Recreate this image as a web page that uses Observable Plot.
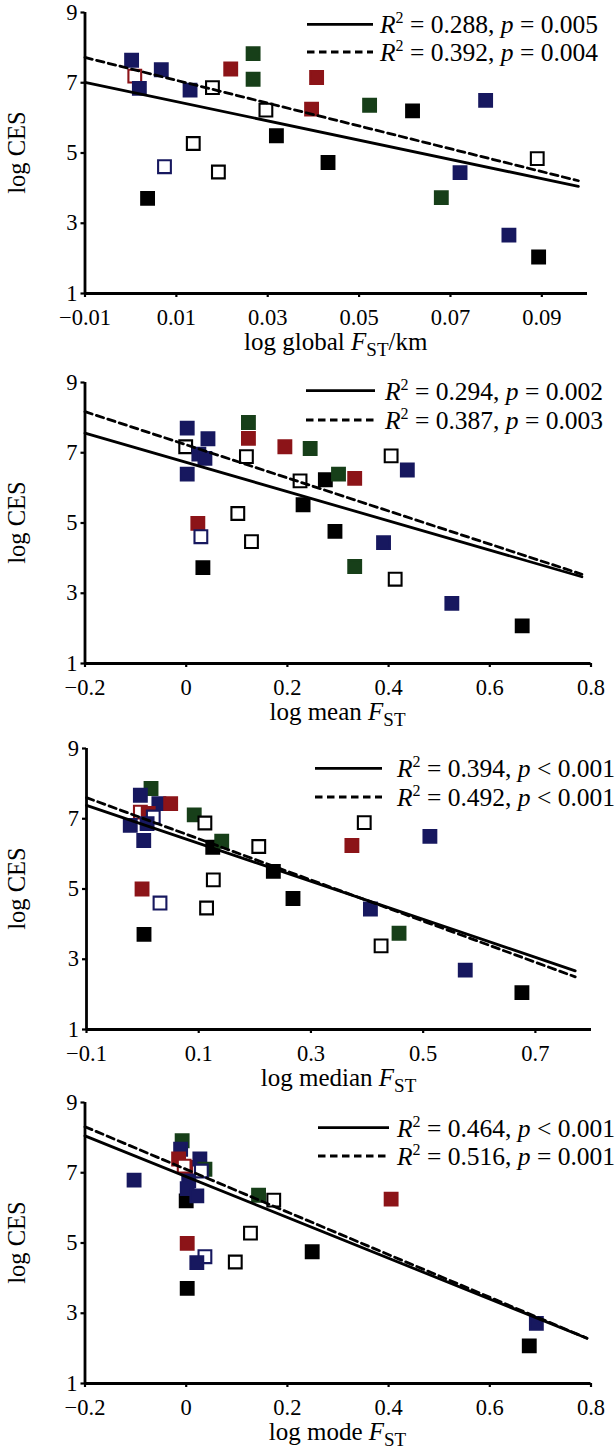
<!DOCTYPE html>
<html><head><meta charset="utf-8">
<script src="https://cdn.jsdelivr.net/npm/d3@7"></script>
<script src="https://cdn.jsdelivr.net/npm/@observablehq/plot@0.6"></script>
<style>
body{margin:0;background:#fff;}
#wrap{position:relative;width:616px;height:1453px;overflow:hidden;background:#fff;}
.panel{position:absolute;left:0;}
svg text{font-family:"Liberation Serif","Times New Roman",serif;}
</style></head><body><div id="wrap"></div>
<script>
// ---- colours of the species groups ----
const groupColors = {navy:"#17185f", red:"#8c1418", green:"#173f19", black:"#000000"};

// ---- panel 1: log global FST/km ----
const p1_x = [0.0002,0.0009,0.0019,0.0067,0.0130,0.0074,0.0037,0.0137,0.0179,0.0192,0.0219,0.0268,0.0268,0.0296,0.0319,0.0407,0.0396,0.0432,0.0523,0.0617,0.0777,0.0721,0.0680,0.0828,0.0893,0.0890];
const p1_y = [7.64,7.19,6.84,7.37,6.79,4.61,3.71,5.27,6.86,4.46,7.39,7.83,7.10,6.22,5.49,7.15,6.25,4.73,6.36,6.20,6.50,4.44,3.73,2.66,2.04,4.84];
const p1_type = ["navy","red-open","navy","navy","navy","navy-open","black","black-open","black-open","black-open","red","green","green","black-open","black","red","red","black","green","black","navy","navy","green","navy","black","black-open"];

// ---- panel 2: log mean FST ----
const p2_x = [0.002,0.043,-0.001,0.025,0.037,0.002,0.023,0.029,0.033,0.102,0.129,0.123,0.123,0.119,0.195,0.245,0.225,0.231,0.275,0.301,0.333,0.294,0.333,0.405,0.413,0.437,0.390,0.525,0.664];
const p2_y = [7.70,7.40,7.17,6.96,6.84,6.39,4.99,4.61,3.73,5.27,4.47,7.86,7.41,6.89,7.17,7.12,6.20,5.52,6.23,6.39,6.27,4.76,3.76,6.91,3.40,6.51,4.44,2.71,2.07];
const p2_type = ["navy","navy","black-open","navy","navy","navy","red","navy-open","black","black-open","black-open","green","red","black-open","red","green","black-open","black","black","green","red","black","green","black-open","black-open","navy","navy","navy","black"];

// ---- panel 3: log median FST ----
const p3_x = [0.015,-0.004,0.029,0.050,-0.004,0.010,0.019,-0.022,0.008,0.002,0.092,0.111,0.125,0.141,0.207,0.233,0.126,0.114,-0.001,0.031,0.0025,0.268,0.373,0.395,0.512,0.406,0.457,0.425,0.575,0.676];
const p3_y = [7.86,7.67,7.43,7.43,7.19,7.15,7.05,6.81,6.86,6.38,7.11,6.88,6.19,6.36,6.21,5.50,5.26,4.46,5.00,4.60,3.71,4.73,6.24,6.89,6.50,4.43,3.74,3.38,2.69,2.05];
const p3_type = ["green","navy","navy","red","red-open","red","navy-open","navy","navy","navy","green","black-open","black","green","black-open","black","black-open","black-open","red","navy-open","black","black","red","black-open","navy","navy","green","black-open","navy","black"];

// ---- panel 4: log mode FST ----
const p4_x = [-0.103,0.000,-0.008,-0.011,-0.015,-0.001,-0.004,0.027,0.037,0.030,0.005,0.002,0.021,0.143,0.173,0.405,0.127,0.002,0.037,0.021,0.097,0.249,0.002,0.692,0.678];
const p4_y = [6.79,6.20,7.91,7.67,7.39,7.15,7.19,7.39,7.10,7.05,6.77,6.55,6.34,6.36,6.22,6.25,5.28,4.99,4.61,4.44,4.46,4.75,3.71,2.71,2.07];
const p4_type = ["navy","black","green","navy","red","red","red-open","navy","green","navy-open","navy","navy","navy","green","black-open","red","black-open","red","navy-open","navy","black-open","black","black","navy","black"];

// ---- regression lines (end points) ----
const fit1_x = [-0.01, 0.098], fit1_solid = [7.01, 4.05], fit1_dashed = [7.72, 4.21];
const fit2_x = [-0.2, 0.782],  fit2_solid = [7.56, 3.47], fit2_dashed = [8.17, 3.54];
const fit3_x = [-0.1, 0.771],  fit3_solid = [7.38, 2.67], fit3_dashed = [7.60, 2.50];
const fit4_x = [-0.2, 0.792],  fit4_solid = [8.05, 2.29], fit4_dashed = [8.31, 2.29];

// ---- legend statistics ----
const stats1 = [["0.288","=","0.005"],["0.392","=","0.004"]];
const stats2 = [["0.294","=","0.002"],["0.387","=","0.003"]];
const stats3 = [["0.394","<","0.001"],["0.492","<","0.001"]];
const stats4 = [["0.464","<","0.001"],["0.516","=","0.001"]];

// ---- axes ----
const xTicks1 = [-0.01,0.01,0.03,0.05,0.07,0.09];
const xTicks2 = [-0.2,0,0.2,0.4,0.6,0.8];
const xTicks3 = [-0.1,0.1,0.3,0.5,0.7];
const xTicks4 = [-0.2,0,0.2,0.4,0.6,0.8];
const yTicks = [1,3,5,7,9];
const xLabelWords = ["log global ","log mean ","log median ","log mode "];
const xLabelSuffix = ["/km","","",""];

const panels = [
  {top:0,    xs:p1_x, ys:p1_y, types:p1_type, dom:[-0.01,0.10], ticks:xTicks1, ml:84.5, mr:29,
   fx:fit1_x, fs:fit1_solid, fd:fit1_dashed, stats:stats1, leg:{x1:307,x2:373,tx:380,y1:24.3,y2:52}},
  {top:370,  xs:p2_x, ys:p2_y, types:p2_type, dom:[-0.2,0.8], ticks:xTicks2, ml:84.5, mr:25.5,
   fx:fit2_x, fs:fit2_solid, fd:fit2_dashed, stats:stats2, leg:{x1:306,x2:375,tx:385,y1:20.7,y2:50}},
  {top:736,  xs:p3_x, ys:p3_y, types:p3_type, dom:[-0.1,0.8], ticks:xTicks3, ml:86, mr:25,
   fx:fit3_x, fs:fit3_solid, fd:fit3_dashed, stats:stats3, leg:{x1:315,x2:382,tx:397,y1:32.3,y2:61}},
  {top:1090, xs:p4_x, ys:p4_y, types:p4_type, dom:[-0.2,0.8], ticks:xTicks4, ml:84.5, mr:25.5,
   fx:fit4_x, fs:fit4_solid, fd:fit4_dashed, stats:stats4, leg:{x1:318,x2:389,tx:397,y1:37.7,y2:66}}
];

const fmt = d => d === 0 ? "0" : (d < 0 ? "\u2212" : "") + String(+Math.abs(d).toFixed(3));
const wrap = document.getElementById("wrap");
const H = 353, MT = 12, MB = 60;

panels.forEach((p, i) => {
  const pts = p.xs.map((x, k) => {
    const [c, o] = p.types[k].split("-");
    return {x, y: p.ys[k], col: groupColors[c], open: o === "open"};
  });
  const solid = p.fx.map((x, k) => ({x, y: p.fs[k]}));
  const dashed = p.fx.map((x, k) => ({x, y: p.fd[k]}));
  const svg = Plot.plot({
    width: 616, height: H,
    marginTop: MT, marginBottom: MB, marginLeft: p.ml, marginRight: p.mr,
    x: {domain: p.dom},
    y: {domain: [1, 9]},
    color: {type: "identity"},
    style: {fontFamily: "Liberation Serif", fontSize: "22.5px", color: "#000", background: "transparent", overflow: "visible"},
    marks: [
      Plot.axisX({ticks: p.ticks, tickFormat: fmt, tickSize: 4, tickPadding: 12, strokeWidth: 2.2, label: null, fontSize: 22.5}),
      Plot.axisY({ticks: yTicks, tickSize: 4, tickPadding: 3.5, strokeWidth: 2.2, label: null, fontSize: 22.5}),
      Plot.ruleY([1], {stroke: "#000", strokeWidth: 2.8}),
      Plot.ruleX([p.dom[0]], {stroke: "#000", strokeWidth: 2.8}),
      Plot.dot(pts, {x: "x", y: "y", symbol: "square", r: 7.2,
        fill: d => d.open ? "#ffffff" : d.col, stroke: "col", strokeWidth: 2.1}),
      Plot.line(solid, {x: "x", y: "y", stroke: "#000", strokeWidth: 2.8}),
      Plot.line(dashed, {x: "x", y: "y", stroke: "#000", strokeWidth: 2.8, strokeDasharray: "7.5,4.5"})
    ]
  });
  const div = document.createElement("div");
  div.className = "panel";
  div.style.top = p.top + "px";
  div.appendChild(svg);
  wrap.appendChild(div);

  const s = d3.select(svg);
  const plotTop = MT, plotBottom = H - MB;
  const cx = (p.ml + (616 - p.mr)) / 2;
  // y label
  s.append("text").attr("transform", `translate(16,${(plotTop + plotBottom) / 2}) rotate(-90)`)
    .attr("text-anchor", "middle").attr("dy", "0.35em").style("font-size", "24.5px").text("log CES");
  // x label
  const xl = s.append("text").attr("x", cx).attr("y", plotBottom + 48).attr("dy", "0.35em")
    .attr("text-anchor", "middle").style("font-size", "25px");
  xl.append("tspan").text(xLabelWords[i]);
  xl.append("tspan").style("font-style", "italic").text("F");
  xl.append("tspan").attr("dy", 6).style("font-size", "19px").text("ST");
  if (xLabelSuffix[i]) xl.append("tspan").attr("dy", -6).text(xLabelSuffix[i]);
  // legend
  [[p.leg.y1, null, p.stats[0]], [p.leg.y2, "7.5,4.5", p.stats[1]]].forEach(([ly, dash, st]) => {
    const ln = s.append("line").attr("x1", p.leg.x1).attr("x2", p.leg.x2).attr("y1", ly).attr("y2", ly)
      .attr("stroke", "#000").attr("stroke-width", 2.8);
    if (dash) ln.attr("stroke-dasharray", dash);
    const t = s.append("text").attr("x", p.leg.tx).attr("y", ly).attr("dy", "0.35em")
      .attr("text-anchor", "start").style("font-size", "25.5px");
    t.append("tspan").style("font-style", "italic").text("R");
    t.append("tspan").attr("dy", -10).style("font-size", "16px").text("2");
    t.append("tspan").attr("dy", 10).text(" = " + st[0] + ", ");
    t.append("tspan").style("font-style", "italic").text("p");
    t.append("tspan").text(" " + st[1] + " " + st[2]);
  });
});
</script></body></html>
